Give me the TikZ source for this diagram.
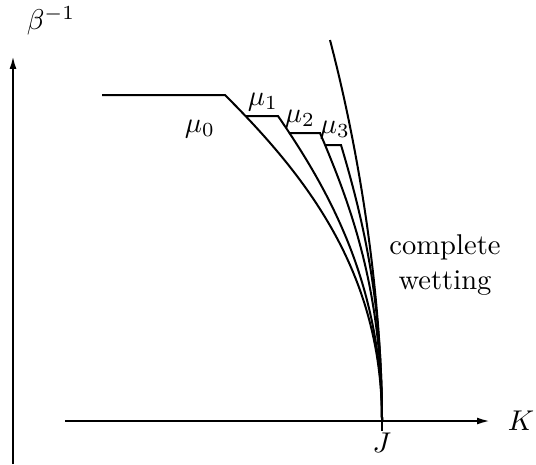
\documentclass[tikz,border=0pt]{standalone}
\usepackage{amsmath}
\usepackage{tikz}
\usetikzlibrary{arrows.meta, calc}

\begin{document}
\begin{tikzpicture}[
		x=0.35pt, y=-0.35pt,
		%--- Line Styles ---------------------------------------------------
		axis/.style={
			-{Latex[length=4.5pt,width=2.4pt]},
			line width=0.7pt,
			draw=black
		},
		phaseline/.style={
			line width=0.7pt,
			draw=black,
			line join=miter
		},
		%--- Label Styles --------------------------------------------------
		axislabel/.style={
			font=\normalsize,
			inner sep=0pt
		},
		mulabel/.style={
			font=\normalsize,
			inner sep=0pt
		}
		]
		
		\useasboundingbox (0,0) rectangle (536,464);
		
		%--- Axes ----------------------------------------------------------
		
		\coordinate (yfoot) at (13,464);
		\coordinate (ytip)  at (13,56);
		\coordinate (xfoot) at (65,421);
		\coordinate (xtip)  at (490,421);
		\coordinate (J)     at (382,421);
		\coordinate (Jtick) at (382,431);
		
		\draw[axis] (yfoot) -- (ytip);
		\draw[axis] (xfoot) -- (xtip);
		\draw[phaseline] (J) -- (Jtick);
		
		\node[axislabel] (beta) at (51,21)  {$\beta^{-1}$};
		\node[axislabel] (K)    at (521,421) {$K$};
		\node[axislabel] (Jlbl) at (382,443) {$J$};
		
		%--- Phase Boundaries (each ends at J) -----------------------------
		
		\coordinate (s0) at (102,95);
		\coordinate (k0) at (225,95);
		\coordinate (s1) at (246,116);
		\coordinate (k1) at (278,116);
		\coordinate (s2) at (289,133);
		\coordinate (k2) at (320,133);
		\coordinate (s3) at (326,145);
		\coordinate (k3) at (341,145);
		\coordinate (top) at (330,40);
		
		\draw[phaseline] (s0) -- (k0)
		.. controls (305,175) and (382,271) .. (J);
		\draw[phaseline] (s1) -- (k1)
		.. controls (326,186) and (382,281) .. (J);
		\draw[phaseline] (s2) -- (k2)
		.. controls (352,208) and (382,291) .. (J);
		\draw[phaseline] (s3) -- (k3)
		.. controls (364,222) and (382,301) .. (J);
		\draw[phaseline] (top)
		.. controls (364,170) and (382,311) .. (J);
		
		%--- Labels --------------------------------------------------------
		
		\node[mulabel] (mu0) at (200,129) {$\mu_0$};
		\node[mulabel] (mu1) at (263,102) {$\mu_1$};
		\node[mulabel] (mu2) at (300,119) {$\mu_2$};
		\node[mulabel] (mu3) at (335,130) {$\mu_3$};
		
		\node[align=center, inner sep=0pt] (wet) at (445,265)
		{complete\\wetting};
		
	\end{tikzpicture}
\end{document}
